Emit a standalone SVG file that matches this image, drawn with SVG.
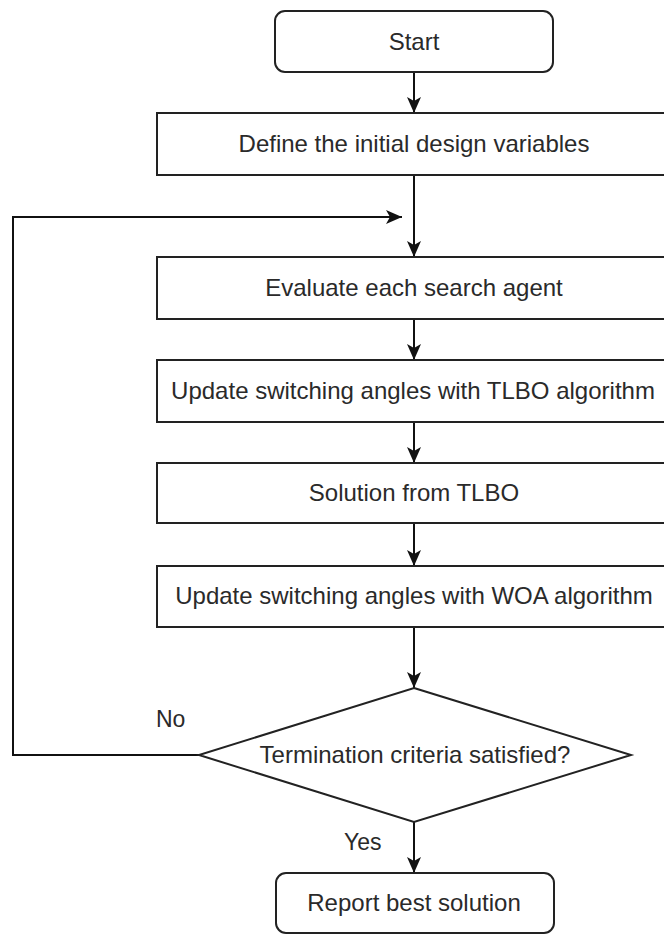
<svg xmlns="http://www.w3.org/2000/svg" width="664" height="934" viewBox="0 0 664 934">
  <style>
    .shape { fill: #ffffff; stroke: #222222; stroke-width: 2; }
    .edge { fill: none; stroke: #111111; stroke-width: 2; }
    .label { font-family: "Liberation Sans", Arial, sans-serif; font-size: 24px; fill: #2a2a2a; text-anchor: middle; }
    .edge-label { font-family: "Liberation Sans", Arial, sans-serif; font-size: 23px; fill: #2a2a2a; text-anchor: start; }
  </style>
  <defs>
    <marker id="arrow" markerUnits="userSpaceOnUse" markerWidth="16" markerHeight="14" refX="16" refY="7" orient="auto" overflow="visible">
      <path d="M16,7 L0,0 L4,7 L0,14 Z" fill="#111111"/>
    </marker>
  </defs>
  <rect width="664" height="934" fill="#ffffff"/>

  <g id="connectors">
    <path class="edge" d="M414,72 L414,113" marker-end="url(#arrow)"/>
    <path class="edge" d="M414,175 L414,257" marker-end="url(#arrow)"/>
    <path class="edge" d="M200,755 L13,755 L13,217 L402,217" marker-end="url(#arrow)"/>
    <path class="edge" d="M414,319 L414,360" marker-end="url(#arrow)"/>
    <path class="edge" d="M414,422 L414,463" marker-end="url(#arrow)"/>
    <path class="edge" d="M414,523 L414,566" marker-end="url(#arrow)"/>
    <path class="edge" d="M414,627 L414,688" marker-end="url(#arrow)"/>
    <path class="edge" d="M414,822 L414,873" marker-end="url(#arrow)"/>
    <text class="edge-label" x="156" y="727">No</text>
    <text class="edge-label" x="344" y="850">Yes</text>
  </g>

  <g id="start">
    <rect class="shape" x="275" y="11" width="278" height="61" rx="10" ry="10"/>
    <text class="label" x="414" y="50">Start</text>
  </g>

  <g id="define-variables">
    <rect class="shape" x="157" y="113" width="514" height="62"/>
    <text class="label" x="414" y="152">Define the initial design variables</text>
  </g>

  <g id="evaluate-agents">
    <rect class="shape" x="157" y="257" width="514" height="62"/>
    <text class="label" x="414" y="296">Evaluate each search agent</text>
  </g>

  <g id="update-tlbo">
    <rect class="shape" x="157" y="360" width="514" height="62"/>
    <text class="label" x="413" y="399">Update switching angles with TLBO algorithm</text>
  </g>

  <g id="tlbo-solution">
    <rect class="shape" x="157" y="463" width="514" height="60"/>
    <text class="label" x="414" y="501">Solution from TLBO</text>
  </g>

  <g id="update-woa">
    <rect class="shape" x="157" y="566" width="514" height="61"/>
    <text class="label" x="414" y="604">Update switching angles with WOA algorithm</text>
  </g>

  <g id="termination-check">
    <path class="shape" d="M414,688 L631,755 L414,822 L199,755 Z"/>
    <text class="label" x="415" y="763">Termination criteria satisfied?</text>
  </g>

  <g id="report">
    <rect class="shape" x="276" y="873" width="278" height="60" rx="10" ry="10"/>
    <text class="label" x="414" y="911">Report best solution</text>
  </g>
</svg>
